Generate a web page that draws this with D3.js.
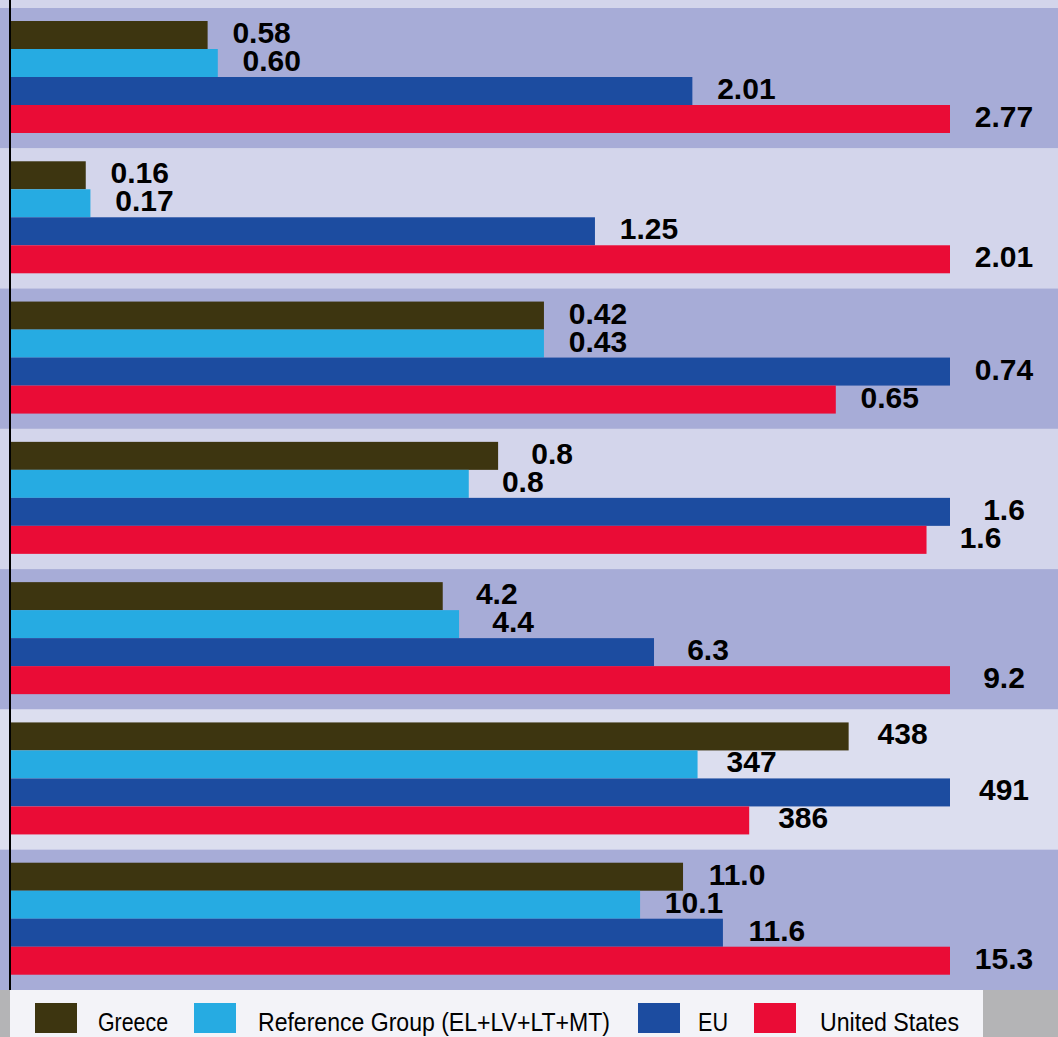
<!DOCTYPE html>
<html>
<head>
<meta charset="utf-8">
<script src="https://cdn.jsdelivr.net/npm/d3@7"></script>
<style>
  html, body { margin: 0; padding: 0; background: #b4b4b6; }
  svg { display: block; }
</style>
</head>
<body>
<svg id="chart"></svg>
<script>
var width = 1058, height = 1037

// indicator rows, top to bottom (no row titles shown in the picture)
var rows = ["r1", "r2", "r3", "r4", "r5", "r6", "r7"]
var series = ["Greece", "Reference Group (EL+LV+LT+MT)", "EU", "United States"]
var colors = ["#3d3510", "#26abe2", "#1c4ca0", "#ea0c36"]

// bar lengths as drawn, one array per series
var greece = [0.58, 0.16, 0.42, 0.83, 4.23, 438, 10.95]
var refGroup = [0.61, 0.17, 0.42, 0.78, 4.39, 359, 10.25]
var eu = [2.01, 1.25, 0.74, 1.6, 6.3, 491, 11.6]
var us = [2.77, 2.01, 0.65, 1.56, 9.2, 386, 15.3]

// printed value labels
var greeceLabels = ["0.58", "0.16", "0.42", "0.8", "4.2", "438", "11.0"]
var refLabels = ["0.60", "0.17", "0.43", "0.8", "4.4", "347", "10.1"]
var euLabels = ["2.01", "1.25", "0.74", "1.6", "6.3", "491", "11.6"]
var usLabels = ["2.77", "2.01", "0.65", "1.6", "9.2", "386", "15.3"]

var values = [greece, refGroup, eu, us]
var labels = [greeceLabels, refLabels, euLabels, usLabels]

var svg = d3.select("#chart")
    .attr("width", width)
    .attr("height", height)

var plotBottom = 990

// top strip
svg.append("rect")
    .attr("x", 0).attr("y", 0)
    .attr("width", width).attr("height", plotBottom)
    .attr("fill", "#d3d5eb")

var y0 = d3.scaleBand()
    .domain(rows)
    .range([8, plotBottom])

var y1 = d3.scaleBand()
    .domain(series)
    .range([13, 125])

var g = svg.append("g")

rows.forEach(function(row, i) {
    var band = g.append("g")
        .attr("transform", "translate(0," + y0(row) + ")")

    band.append("rect")
        .attr("x", 0).attr("y", 0)
        .attr("width", width)
        .attr("height", y0.bandwidth())
        .attr("fill", i % 2 == 0 ? "#a7acd7" : (i == 5 ? "#dcdeef" : "#d3d5eb"))

    var rowVals = values.map(function(v) { return v[i] })
    var x = d3.scaleLinear()
        .domain([0, d3.max(rowVals)])
        .range([11, 950])

    var data = series.map(function(s, j) {
        return { s: s, v: values[j][i], label: labels[j][i], color: colors[j] }
    })

    band.selectAll("rect.bar")
        .data(data)
        .enter()
        .append("rect")
            .attr("class", "bar")
            .attr("x", x(0))
            .attr("y", function(d) { return y1(d.s) })
            .attr("width", function(d) { return x(d.v) - x(0) })
            .attr("height", y1.bandwidth())
            .attr("fill", function(d) { return d.color })

    band.selectAll("text.val")
        .data(data)
        .enter()
        .append("text")
            .attr("class", "val")
            .attr("x", function(d) { return x(d.v) + 54 })
            .attr("y", function(d) { return y1(d.s) + y1.bandwidth() / 2 + 8 })
            .attr("text-anchor", "middle")
            .style("font-family", "'Liberation Sans', Arial, sans-serif")
            .style("font-weight", "bold")
            .style("font-size", "30px")
            .attr("fill", "#000")
            .text(function(d) { return d.label })
})

// left axis line
svg.append("line")
    .attr("x1", 10).attr("x2", 10)
    .attr("y1", 0).attr("y2", plotBottom)
    .attr("stroke", "#000")
    .attr("stroke-width", 2)

// legend
var legend = svg.append("g")
legend.append("rect")
    .attr("x", 10).attr("y", plotBottom)
    .attr("width", 973).attr("height", height - plotBottom)
    .attr("fill", "#f3f3f8")

// swatch x, text x, text width (narrow face in the original)
var swatchX = [35, 194, 638, 754]
var textX = [98, 258, 698, 820]
var textW = [70, 352, 30, 139]
series.forEach(function(s, j) {
    legend.append("rect")
        .attr("x", swatchX[j]).attr("y", 1003)
        .attr("width", 42).attr("height", 30)
        .attr("fill", colors[j])
    legend.append("text")
        .attr("x", textX[j]).attr("y", 1031)
        .attr("textLength", textW[j])
        .attr("lengthAdjust", "spacingAndGlyphs")
        .style("font-family", "'Liberation Sans', Arial, sans-serif")
        .style("font-size", "26px")
        .attr("fill", "#000")
        .text(s)
})
</script>
</body>
</html>
